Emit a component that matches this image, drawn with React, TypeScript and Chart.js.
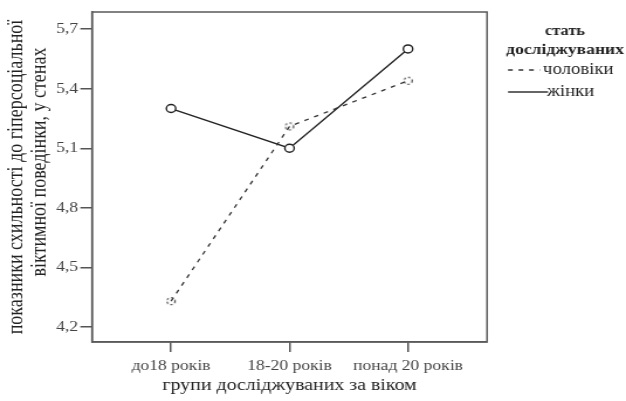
import React, { useEffect, useRef } from 'react';
import { Chart, registerables } from 'chart.js';

Chart.register(...registerables);

const categories = ['до18 років', '18-20 років', 'понад 20 років'];
const maleValues = [4.33, 5.21, 5.44];
const femaleValues = [5.3, 5.1, 5.6];
const yTickValues = [4.2, 4.5, 4.8, 5.1, 5.4, 5.7];
const seriesLabels = ['чоловіки', 'жінки'];
const legendTitle = ['стать', 'досліджуваних'];
const xTitle = 'групи досліджуваних за віком';
const yTitle = ['показники схильності до гіперсоціальної', 'віктимної поведінки, у стенах'];

const S = 1.17; // horizontal stretch of the whole picture
const W = Math.round(626 / S);
const H = 401;
const px = (x: number) => x / S;
const FONT = '"Liberation Serif", "Times New Roman", serif';

function makeDashedCircle(): HTMLCanvasElement {
  const c = document.createElement('canvas');
  c.width = 10;
  c.height = 10;
  const g = c.getContext('2d')!;
  g.strokeStyle = '#333';
  g.lineWidth = 1.1;
  g.setLineDash([2, 2]);
  g.beginPath();
  g.arc(5, 5, 3.5, 0, Math.PI * 2);
  g.stroke();
  return c;
}

const decor = {
  id: 'decor',
  afterDraw(chart: any) {
    const { ctx, chartArea: a } = chart;
    ctx.save();
    ctx.strokeStyle = '#5a5a5a';
    ctx.lineWidth = 1.5;
    ctx.strokeRect(a.left, a.top, a.right - a.left, a.bottom - a.top);

    ctx.fillStyle = '#222';
    ctx.textAlign = 'center';
    ctx.textBaseline = 'middle';
    ctx.font = `17px ${FONT}`;
    ctx.fillText(xTitle, (a.left + a.right) / 2, 386);

    ctx.font = `18px ${FONT}`;
    ctx.save();
    ctx.translate(px(17), 177);
    ctx.rotate(-Math.PI / 2);
    ctx.fillText(yTitle[0], 0, 0);
    ctx.restore();
    ctx.save();
    ctx.translate(px(40), 162);
    ctx.rotate(-Math.PI / 2);
    ctx.fillText(yTitle[1], 0, 0);
    ctx.restore();

    // legend
    ctx.font = `bold 14px ${FONT}`;
    ctx.fillText(legendTitle[0], px(565), 31);
    ctx.font = `bold 15px ${FONT}`;
    ctx.fillText(legendTitle[1], px(565), 50);

    ctx.strokeStyle = '#333';
    ctx.lineWidth = 1.3;
    ctx.setLineDash([4, 5]);
    ctx.beginPath();
    ctx.moveTo(px(508), 70);
    ctx.lineTo(px(540), 70);
    ctx.stroke();
    ctx.setLineDash([]);
    ctx.beginPath();
    ctx.moveTo(px(508), 92);
    ctx.lineTo(px(548), 92);
    ctx.stroke();

    ctx.textAlign = 'left';
    ctx.font = `16px ${FONT}`;
    ctx.fillText(seriesLabels[0], px(543), 70);
    ctx.fillText(seriesLabels[1], px(547), 92);
    ctx.restore();
  },
};

export default function App() {
  const ref = useRef<HTMLCanvasElement>(null);

  useEffect(() => {
    const canvas = ref.current!;
    const dashed = makeDashedCircle();
    const chart = new Chart(canvas, {
      type: 'line',
      data: {
        datasets: [
          {
            label: seriesLabels[0],
            data: maleValues.map((y, i) => ({ x: i, y })),
            borderColor: '#333',
            borderWidth: 1.3,
            borderDash: [4, 5],
            pointStyle: dashed as any,
            pointRadius: 4,
            tension: 0,
          },
          {
            label: seriesLabels[1],
            data: femaleValues.map((y, i) => ({ x: i, y })),
            borderColor: '#222',
            borderWidth: 1.4,
            pointRadius: 4,
            pointBackgroundColor: '#fff',
            pointBorderColor: '#222',
            pointBorderWidth: 1.4,
            tension: 0,
          },
        ],
      },
      options: {
        responsive: false,
        animation: false,
        devicePixelRatio: 1,
        layout: { padding: { left: 0, top: 12, right: W - px(487), bottom: 0 } },
        plugins: { legend: { display: false }, tooltip: { enabled: false } },
        scales: {
          x: {
            type: 'linear',
            min: -0.667,
            max: 2.667,
            afterBuildTicks: (s: any) => {
              s.ticks = categories.map((_, i) => ({ value: i }));
            },
            afterFit: (s: any) => {
              s.height = H - 342;
            },
            grid: { drawOnChartArea: false, drawTicks: true, tickLength: 10, color: '#555', lineWidth: 1.5 },
            border: { display: true, color: '#5a5a5a', width: 1.5 },
            ticks: {
              color: '#444',
              padding: 5,
              maxRotation: 0,
              font: { family: FONT, size: 15 },
              callback: (v: any) => categories[Math.round(Number(v))] ?? '',
            },
          },
          y: {
            type: 'linear',
            min: 4.1245,
            max: 5.786,
            afterBuildTicks: (s: any) => {
              s.ticks = yTickValues.map((v) => ({ value: v }));
            },
            afterFit: (s: any) => {
              s.width = px(92);
            },
            grid: { drawOnChartArea: false, drawTicks: true, tickLength: 10, color: '#555', lineWidth: 1.5 },
            border: { display: true, color: '#5a5a5a', width: 1.5 },
            ticks: {
              color: '#444',
              padding: 2,
              font: { family: FONT, size: 15 },
              callback: (v: any) => Number(v).toFixed(1).replace('.', ','),
            },
          },
        },
      },
      plugins: [decor],
    });
    return () => chart.destroy();
  }, []);

  return (
    <div style={{ position: 'fixed', left: 0, top: 0, width: 626, height: 401, background: '#fff' }}>
      <canvas ref={ref} width={W} height={H} style={{ width: '626px', height: '401px', display: 'block' }} />
    </div>
  );
}
